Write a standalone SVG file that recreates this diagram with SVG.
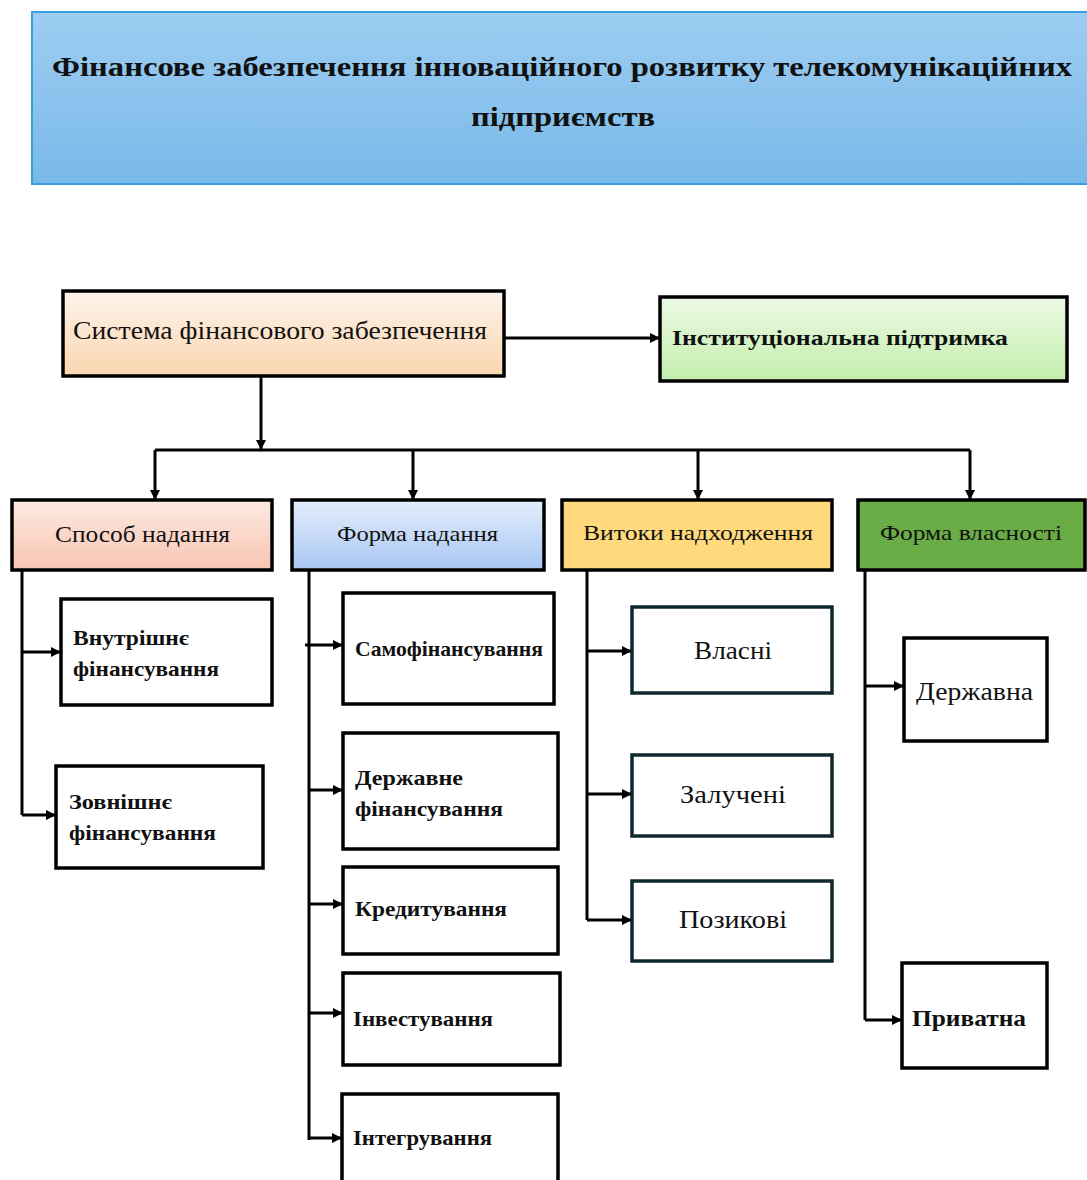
<svg xmlns="http://www.w3.org/2000/svg" width="1087" height="1180" viewBox="0 0 1087 1180">
<defs>
<linearGradient id="gTitle" x1="0" y1="0" x2="0" y2="1"><stop offset="0" stop-color="#9dcdf2"/><stop offset="1" stop-color="#79b9e8"/></linearGradient>
<linearGradient id="gSys" x1="0" y1="0" x2="0" y2="1"><stop offset="0" stop-color="#fdf3ea"/><stop offset="1" stop-color="#fbd6b0"/></linearGradient>
<linearGradient id="gInst" x1="0" y1="0" x2="0" y2="1"><stop offset="0" stop-color="#ecf9e4"/><stop offset="1" stop-color="#c2eeac"/></linearGradient>
<linearGradient id="gSpos" x1="0" y1="0" x2="0" y2="1"><stop offset="0" stop-color="#fdeae2"/><stop offset="1" stop-color="#f8c4b2"/></linearGradient>
<linearGradient id="gForm" x1="0" y1="0" x2="0" y2="1"><stop offset="0" stop-color="#e4eefc"/><stop offset="1" stop-color="#a8c6f2"/></linearGradient>
<marker id="ah" viewBox="0 0 10 10" refX="9" refY="5" markerWidth="10" markerHeight="10" markerUnits="userSpaceOnUse" orient="auto"><path d="M0,0 L10,5 L0,10 z" fill="#000"/></marker>
<style>
.box{stroke:#000;stroke-width:3.5}
.leaf{fill:#fff;stroke:#000;stroke-width:3.5}
.leaf2{fill:#fff;stroke:#10282e;stroke-width:3.5}
.ln{fill:none;stroke:#000;stroke-width:3}
.t{font-family:"Liberation Serif","DejaVu Serif",serif;fill:#111}
.b{font-weight:bold}
.c{text-anchor:middle}
</style>
</defs>
<rect width="1087" height="1180" fill="#fff"/>
<g id="title">
<rect x="32" y="12" width="1060" height="172" fill="url(#gTitle)" stroke="#3aa0dc" stroke-width="2"/>
<text class="t b" x="52" y="76" font-size="28" textLength="1020" lengthAdjust="spacingAndGlyphs">Фінансове забезпечення інноваційного розвитку телекомунікаційних</text>
<text class="t b" x="471" y="126" font-size="28" textLength="184" lengthAdjust="spacingAndGlyphs">підприємств</text>
</g>
<g id="system">
<rect class="box" x="63" y="291" width="441" height="85" fill="url(#gSys)"/>
<text class="t" x="73" y="339" font-size="25" textLength="414" lengthAdjust="spacingAndGlyphs">Система фінансового забезпечення</text>
</g>
<g id="institutional">
<rect class="box" x="660" y="297" width="407" height="84" fill="url(#gInst)"/>
<text class="t b" x="672" y="345" font-size="22" textLength="336" lengthAdjust="spacingAndGlyphs">Інституціональна підтримка</text>
</g>
<g id="sposib">
<rect class="box" x="12" y="500" width="260" height="70" fill="url(#gSpos)"/>
<text class="t" x="55" y="542" font-size="24" textLength="175" lengthAdjust="spacingAndGlyphs">Способ надання</text>
</g>
<g id="forma">
<rect class="box" x="292" y="500" width="252" height="70" fill="url(#gForm)"/>
<text class="t" x="337" y="541" font-size="22" textLength="161" lengthAdjust="spacingAndGlyphs">Форма надання</text>
</g>
<g id="vytoky">
<rect class="box" x="562" y="500" width="270" height="70" fill="#ffd97c"/>
<text class="t" x="583" y="540" font-size="22" textLength="230" lengthAdjust="spacingAndGlyphs">Витоки надходження</text>
</g>
<g id="vlasnist">
<rect class="box" x="858" y="500" width="227" height="70" fill="#6aad47"/>
<text class="t" x="880" y="540" font-size="22" textLength="182" lengthAdjust="spacingAndGlyphs">Форма власності</text>
</g>
<g id="vnutr">
<rect class="leaf" x="61" y="599" width="211" height="106"/>
<text class="t b" x="73" y="645" font-size="21" textLength="116" lengthAdjust="spacingAndGlyphs">Внутрішнє</text>
<text class="t b" x="73" y="676" font-size="21" textLength="146" lengthAdjust="spacingAndGlyphs">фінансування</text>
</g>
<g id="zovn">
<rect class="leaf" x="56" y="766" width="207" height="102"/>
<text class="t b" x="69" y="809" font-size="21" textLength="103" lengthAdjust="spacingAndGlyphs">Зовнішнє</text>
<text class="t b" x="69" y="840" font-size="21" textLength="147" lengthAdjust="spacingAndGlyphs">фінансування</text>
</g>
<g id="samofin">
<rect class="leaf" x="343" y="593" width="211" height="111"/>
<text class="t b" x="355" y="656" font-size="21" textLength="188" lengthAdjust="spacingAndGlyphs">Самофінансування</text>
</g>
<g id="derzhfin">
<rect class="leaf" x="343" y="733" width="215" height="116"/>
<text class="t b" x="355" y="785" font-size="22" textLength="108" lengthAdjust="spacingAndGlyphs">Державне</text>
<text class="t b" x="355" y="816" font-size="22" textLength="148" lengthAdjust="spacingAndGlyphs">фінансування</text>
</g>
<g id="kredyt">
<rect class="leaf" x="343" y="867" width="215" height="87"/>
<text class="t b" x="355" y="916" font-size="21" textLength="152" lengthAdjust="spacingAndGlyphs">Кредитування</text>
</g>
<g id="invest">
<rect class="leaf" x="343" y="973" width="217" height="92"/>
<text class="t b" x="353" y="1026" font-size="21" textLength="140" lengthAdjust="spacingAndGlyphs">Інвестування</text>
</g>
<g id="integr">
<rect class="leaf" x="342" y="1094" width="216" height="100"/>
<text class="t b" x="353" y="1145" font-size="21" textLength="139" lengthAdjust="spacingAndGlyphs">Інтегрування</text>
</g>
<g id="vlasni">
<rect class="leaf2" x="632" y="607" width="200" height="86"/>
<text class="t" x="694" y="659" font-size="25" textLength="78" lengthAdjust="spacingAndGlyphs">Власні</text>
</g>
<g id="zaluch">
<rect class="leaf2" x="632" y="755" width="200" height="81"/>
<text class="t" x="680" y="803" font-size="25" textLength="106" lengthAdjust="spacingAndGlyphs">Залучені</text>
</g>
<g id="pozyk">
<rect class="leaf2" x="632" y="881" width="200" height="80"/>
<text class="t" x="679" y="928" font-size="25" textLength="108" lengthAdjust="spacingAndGlyphs">Позикові</text>
</g>
<g id="derzhavna">
<rect class="leaf" x="904" y="638" width="143" height="103"/>
<text class="t" x="916" y="700" font-size="25" textLength="117" lengthAdjust="spacingAndGlyphs">Державна</text>
</g>
<g id="pryvatna">
<rect class="leaf" x="902" y="963" width="145" height="105"/>
<text class="t b" x="912" y="1026" font-size="23" textLength="114" lengthAdjust="spacingAndGlyphs">Приватна</text>
</g>
<g id="connectors">
<path class="ln" d="M504,338 H659" marker-end="url(#ah)"/>
<path class="ln" d="M261,376 V449" marker-end="url(#ah)"/>
<path class="ln" d="M155,450 H970"/>
<path class="ln" d="M155,450 V499" marker-end="url(#ah)"/>
<path class="ln" d="M413,450 V499" marker-end="url(#ah)"/>
<path class="ln" d="M698,450 V499" marker-end="url(#ah)"/>
<path class="ln" d="M970,450 V499" marker-end="url(#ah)"/>
<path class="ln" d="M22,570 V815"/>
<path class="ln" d="M22,652 H60" marker-end="url(#ah)"/>
<path class="ln" d="M22,815 H55" marker-end="url(#ah)"/>
<path class="ln" d="M309,570 V1140"/>
<path class="ln" d="M305,645 H342" marker-end="url(#ah)"/>
<path class="ln" d="M309,790 H342" marker-end="url(#ah)"/>
<path class="ln" d="M309,904 H342" marker-end="url(#ah)"/>
<path class="ln" d="M309,1013 H342" marker-end="url(#ah)"/>
<path class="ln" d="M309,1138 H341" marker-end="url(#ah)"/>
<path class="ln" d="M587,570 V920"/>
<path class="ln" d="M587,651 H631" marker-end="url(#ah)"/>
<path class="ln" d="M587,794 H631" marker-end="url(#ah)"/>
<path class="ln" d="M587,920 H631" marker-end="url(#ah)"/>
<path class="ln" d="M865,570 V1020"/>
<path class="ln" d="M865,686 H903" marker-end="url(#ah)"/>
<path class="ln" d="M865,1020 H901" marker-end="url(#ah)"/>
</g>
</svg>
